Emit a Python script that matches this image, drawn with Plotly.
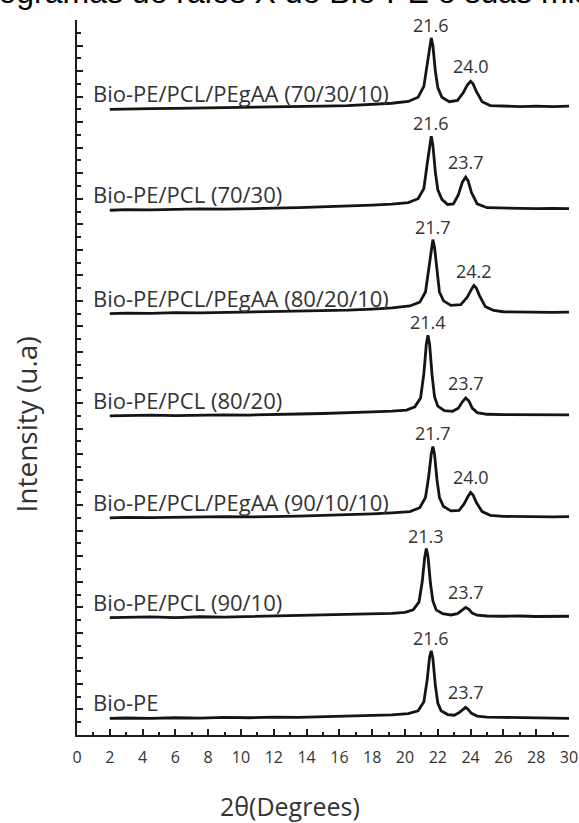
import plotly.graph_objects as go

# Sample names, bottom trace first
samples = [
    "Bio-PE",
    "Bio-PE/PCL (90/10)",
    "Bio-PE/PCL/PEgAA (90/10/10)",
    "Bio-PE/PCL (80/20)",
    "Bio-PE/PCL/PEgAA (80/20/10)",
    "Bio-PE/PCL (70/30)",
    "Bio-PE/PCL/PEgAA (70/30/10)",
]

# Vertical stacking offset of each pattern (a.u.)
offsets = [1.3, 9.2, 17.0, 25.0, 33.0, 41.1, 49.0]

# Reflection positions (2θ, degrees): main peak and secondary peak
peak1 = [21.6, 21.3, 21.7, 21.4, 21.7, 21.6, 21.6]
peak2 = [23.7, 23.7, 24.0, 23.7, 24.2, 23.7, 24.0]

# Diffraction patterns: 2θ and relative intensity (a.u.)
x_biope = [2, 3, 4.5, 6, 7.5, 9, 10.5, 12, 13.5, 15, 16.5, 18, 19.2, 20.2, 20.8, 21.15, 21.35, 21.5, 21.6, 21.7,
           21.85, 22.0, 22.2, 22.6, 23.0, 23.3, 23.55, 23.7, 23.85, 24.05, 24.4, 25, 26, 27, 28, 29, 30]
i_biope = [0.0, 0.03, 0.0, 0.05, 0.02, 0.08, 0.05, 0.1, 0.08, 0.12, 0.15, 0.22, 0.28, 0.38, 0.6, 1.3, 3.0, 4.8, 5.3, 4.7,
           2.6, 1.2, 0.6, 0.3, 0.25, 0.45, 0.75, 0.86, 0.7, 0.4, 0.18, 0.1, 0.08, 0.05, 0.06, 0.03, 0.0]

x_pcl_90 = [2, 3, 4.5, 6, 7.5, 9, 10.5, 12, 13.5, 15, 16.5, 18, 19.2, 20.0, 20.5, 20.85, 21.05, 21.2, 21.3, 21.4,
            21.55, 21.7, 21.9, 22.3, 22.8, 23.2, 23.5, 23.7, 23.9, 24.1, 24.4, 25, 26, 27, 28, 29, 30]
i_pcl_90 = [0.0, 0.02, 0.05, 0.0, 0.06, 0.04, 0.08, 0.1, 0.12, 0.15, 0.2, 0.25, 0.32, 0.4, 0.6, 1.2, 2.8, 4.7, 5.4, 4.8,
            2.7, 1.3, 0.6, 0.3, 0.2, 0.3, 0.6, 0.8, 0.65, 0.35, 0.18, 0.12, 0.1, 0.12, 0.08, 0.1, 0.1]

x_gaa_90 = [2, 3, 4.5, 6, 7.5, 9, 10.5, 12, 13.5, 15, 16.5, 18, 19.2, 20.3, 20.9, 21.25, 21.45, 21.6, 21.7, 21.8,
            21.95, 22.1, 22.35, 22.8, 23.3, 23.6, 23.85, 24.0, 24.15, 24.35, 24.7, 25.2, 26, 27, 28, 29, 30]
i_gaa_90 = [0.0, 0.04, 0.02, 0.06, 0.05, 0.1, 0.08, 0.14, 0.15, 0.2, 0.25, 0.32, 0.4, 0.5, 0.8, 1.6, 3.3, 5.0, 5.6, 5.0,
            3.0, 1.6, 0.9, 0.55, 0.6, 1.1, 1.7, 2.0, 1.8, 1.2, 0.5, 0.2, 0.12, 0.1, 0.12, 0.08, 0.1]

x_pcl_80 = [2, 3, 4.5, 6, 7.5, 9, 10.5, 12, 13.5, 15, 16.5, 18, 19.2, 20.1, 20.6, 20.95, 21.15, 21.3, 21.4, 21.5,
            21.65, 21.8, 22.0, 22.4, 22.9, 23.25, 23.5, 23.7, 23.9, 24.1, 24.4, 25, 26, 27, 28, 29, 30]
i_pcl_80 = [0.0, 0.03, 0.05, 0.02, 0.06, 0.08, 0.06, 0.12, 0.14, 0.18, 0.22, 0.3, 0.36, 0.45, 0.7, 1.4, 3.3, 5.6, 6.3, 5.6,
            3.2, 1.5, 0.75, 0.4, 0.35, 0.6, 1.1, 1.4, 1.15, 0.6, 0.25, 0.12, 0.1, 0.08, 0.1, 0.06, 0.08]

x_gaa_80 = [2, 3, 4.5, 6, 7.5, 9, 10.5, 12, 13.5, 15, 16.5, 18, 19.2, 20.3, 20.9, 21.25, 21.45, 21.6, 21.7, 21.8,
            21.95, 22.1, 22.35, 22.8, 23.4, 23.8, 24.05, 24.2, 24.35, 24.55, 24.9, 25.4, 26, 27, 28, 29, 30]
i_gaa_80 = [0.0, 0.04, 0.03, 0.08, 0.06, 0.1, 0.12, 0.15, 0.18, 0.22, 0.28, 0.36, 0.45, 0.6, 0.9, 1.7, 3.5, 5.2, 5.8, 5.2,
            3.2, 1.7, 1.0, 0.65, 0.7, 1.3, 1.9, 2.2, 2.0, 1.4, 0.55, 0.25, 0.15, 0.12, 0.14, 0.1, 0.12]

x_pcl_70 = [2, 3, 4.5, 6, 7.5, 9, 10.5, 12, 13.5, 15, 16.5, 18, 19.2, 20.2, 20.8, 21.15, 21.35, 21.5, 21.6, 21.7,
            21.85, 22.0, 22.25, 22.6, 22.95, 23.25, 23.5, 23.7, 23.85, 24.05, 24.4, 25, 26, 27, 28, 29, 30]
i_pcl_70 = [0.0, 0.05, 0.03, 0.08, 0.1, 0.08, 0.14, 0.16, 0.2, 0.25, 0.3, 0.4, 0.48, 0.6, 0.9, 1.7, 3.6, 5.2, 5.8, 5.1,
            3.0, 1.6, 0.85, 0.45, 0.5, 1.2, 2.2, 2.6, 2.3, 1.4, 0.5, 0.2, 0.15, 0.15, 0.12, 0.15, 0.12]

x_gaa_70 = [2, 3, 4.5, 6, 7.5, 9, 10.5, 12, 13.5, 15, 16.5, 18, 19.2, 20.2, 20.8, 21.15, 21.35, 21.5, 21.6, 21.7,
            21.85, 22.0, 22.25, 22.7, 23.2, 23.55, 23.8, 24.0, 24.15, 24.35, 24.7, 25.2, 26, 27, 28, 29, 30]
i_gaa_70 = [0.0, 0.04, 0.06, 0.08, 0.1, 0.12, 0.14, 0.18, 0.2, 0.25, 0.3, 0.4, 0.48, 0.62, 0.95, 1.8, 3.6, 5.1, 5.6, 5.0,
            3.0, 1.7, 0.95, 0.6, 0.7, 1.3, 1.9, 2.2, 2.0, 1.4, 0.6, 0.3, 0.25, 0.22, 0.25, 0.22, 0.25]

two_theta = [x_biope, x_pcl_90, x_gaa_90, x_pcl_80, x_gaa_80, x_pcl_70, x_gaa_70]
intensity = [i_biope, i_pcl_90, i_gaa_90, i_pcl_80, i_gaa_80, i_pcl_70, i_gaa_70]

x_ticks = list(range(0, 31, 2))

TEXT = "#333333"
AXIS = "#1e1e1e"
LABEL_FONT = "Open Sans"

fig = go.Figure()
annotations = []

for name, off, xs, ys, p1, p2 in zip(samples, offsets, two_theta, intensity, peak1, peak2):
    fig.add_trace(go.Scatter(
        x=xs, y=[v + off for v in ys], mode="lines",
        line=dict(color="#141414", width=2.8),
        showlegend=False, hoverinfo="skip",
    ))
    # sample name above the flat part of the pattern
    annotations.append(dict(
        x=0.85, y=off + ys[0], xref="x", yref="y", text=name, showarrow=False,
        xanchor="left", yanchor="middle", yshift=16,
        font=dict(family=LABEL_FONT, size=22, color=TEXT),
    ))
    # peak position labels
    top1 = ys[xs.index(p1)] + off
    top2 = ys[xs.index(p2)] + off
    annotations.append(dict(
        x=p1, y=top1, xref="x", yref="y", text=f"{p1:.1f}", showarrow=False,
        xanchor="center", yanchor="middle", yshift=13,
        font=dict(family=LABEL_FONT, size=18, color=TEXT),
    ))
    annotations.append(dict(
        x=p2, y=top2, xref="x", yref="y", text=f"{p2:.1f}", showarrow=False,
        xanchor="center", yanchor="middle", yshift=15,
        font=dict(family=LABEL_FONT, size=18, color=TEXT),
    ))

# axis titles
annotations.append(dict(
    x=-0.104, y=0.434, xref="paper", yref="paper", text="Intensity (u.a)",
    showarrow=False, textangle=-90, xanchor="center", yanchor="middle",
    font=dict(family=LABEL_FONT, size=28, color=TEXT),
))
annotations.append(dict(
    x=0.433, y=-0.0995, xref="paper", yref="paper", text="2θ(Degrees)",
    showarrow=False, xanchor="center", yanchor="middle",
    font=dict(family=LABEL_FONT, size=25, color=TEXT),
))
# page heading running across the top edge
annotations.append(dict(
    x=-0.3185, y=1.0112, xref="paper", yref="paper",
    text="Difratogramas de raios X de Bio-PE e suas misturas",
    showarrow=False, xanchor="left", yanchor="bottom",
    font=dict(family="Liberation Sans, Arial", size=32, color="#000000"),
))

fig.update_layout(
    width=579, height=823,
    margin=dict(l=77, r=10, t=20, b=88),
    paper_bgcolor="white", plot_bgcolor="white",
    annotations=annotations,
    xaxis=dict(
        range=[0, 30], tickmode="array", tickvals=x_ticks, automargin=False,
        ticks="inside", ticklen=6, tickwidth=1.6, tickcolor=AXIS,
        minor=dict(dtick=1, tick0=0, ticks="inside", ticklen=3, tickwidth=1.6, tickcolor=AXIS),
        showline=True, linecolor=AXIS, linewidth=2,
        showgrid=False, zeroline=False,
        tickfont=dict(family=LABEL_FONT, size=16, color=TEXT),
        ticklabelstandoff=7,
    ),
    yaxis=dict(
        range=[0, 56], tickmode="linear", tick0=0, dtick=2, automargin=False,
        ticks="inside", ticklen=6, tickwidth=1.6, tickcolor=AXIS,
        minor=dict(dtick=1, tick0=0, ticks="inside", ticklen=4, tickwidth=1.6, tickcolor=AXIS),
        showticklabels=False,
        showline=True, linecolor=AXIS, linewidth=2,
        showgrid=False, zeroline=False,
    ),
)

fig.write_html("out.html")
